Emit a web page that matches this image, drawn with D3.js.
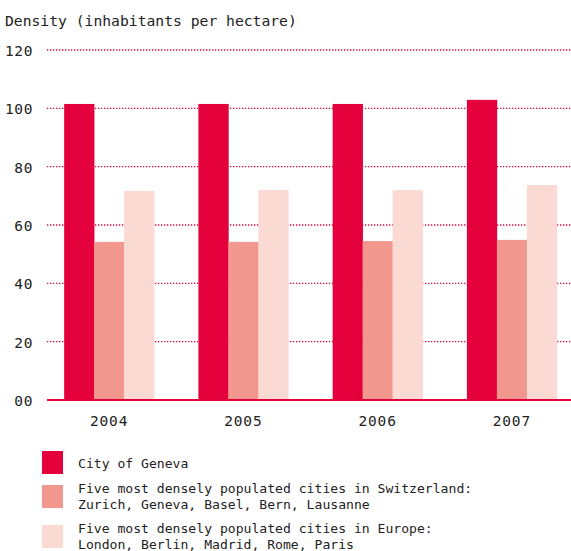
<!DOCTYPE html>
<html><head><meta charset="utf-8">
<script src="https://cdn.jsdelivr.net/npm/d3@7"></script>
<style>
body{margin:0;background:#fff;}
text{font-family:"DejaVu Sans Mono",monospace;fill:#222;}
</style></head>
<body><svg id="c" width="571" height="551"></svg>
<script>
const years = ["2004","2005","2006","2007"];
const seriesNames = ["City of Geneva","Five most densely populated cities in Switzerland:|Zurich, Geneva, Basel, Bern, Lausanne","Five most densely populated cities in Europe:|London, Berlin, Madrid, Rome, Paris"];
const geneva = [101.5, 101.5, 101.5, 102.9];
const swiss = [54.2, 54.2, 54.5, 54.9];
const europe = [71.7, 72.0, 72.0, 73.7];
const yTicks = [0,20,40,60,80,100,120];
const yTickLabels = ["00","20","40","60","80","100","120"];
const colors = ["#e4003a","#f2978e","#fadad3"];
const yTitle = "Density (inhabitants per hectare)";

const series = [geneva, swiss, europe];
const svg = d3.select("#c");
const x = d3.scaleBand().domain(years).range([42,579]).paddingInner(0.33).paddingOuter(0.165);
const xs = d3.scaleBand().domain([0,1,2]).range([0, x.bandwidth()]);
const y = d3.scaleLinear().domain([0,120]).range([400,50]);

svg.append("text").attr("x",5).attr("y",26).style("font-size","14.7px").text(yTitle);

// grid
svg.append("g").selectAll("line").data(yTicks.filter(d=>d>0)).join("line")
  .attr("x1",47).attr("x2",571).attr("y1",d=>y(d)).attr("y2",d=>y(d))
  .attr("stroke","#e4003a").attr("stroke-width",1.3).attr("stroke-dasharray","1.3,1.7");

// y labels
svg.append("g").selectAll("text").data(yTicks).join("text")
  .attr("x",33).attr("y",d=>y(d)+6).attr("text-anchor","end")
  .style("font-size","14.5px").style("letter-spacing","0.6px")
  .text((d,i)=>yTickLabels[i]);

// bars
const g = svg.append("g");
series.forEach((vals,si)=>{
  g.selectAll(".s"+si).data(years).join("rect")
    .attr("x",d=>x(d)+xs(si)).attr("width",xs.bandwidth()+0.3)
    .attr("y",(d,i)=>y(vals[i])).attr("height",(d,i)=>y(0)-y(vals[i]))
    .attr("fill",colors[si]);
});

// baseline
svg.append("line").attr("x1",47).attr("x2",571).attr("y1",y(0)).attr("y2",y(0))
  .attr("stroke","#e4003a").attr("stroke-width",2);

// x labels
svg.append("g").selectAll("text").data(years).join("text")
  .attr("x",d=>x(d)+x.bandwidth()/2).attr("y",426).attr("text-anchor","middle")
  .style("font-size","14.5px").style("letter-spacing","0.8px").text(d=>d);

// legend
const legY = [451,485,525];
const leg = svg.append("g");
seriesNames.forEach((name,i)=>{
  leg.append("rect").attr("x",42).attr("y",legY[i]).attr("width",21).attr("height",23).attr("fill",colors[i]);
  const lines = name.split("|");
  lines.forEach((ln,j)=>{
    leg.append("text").attr("x",78).attr("y",(i===0?468:legY[i]+8)+j*16)
      .style("font-size","13.1px").text(ln);
  });
});
</script></body></html>
